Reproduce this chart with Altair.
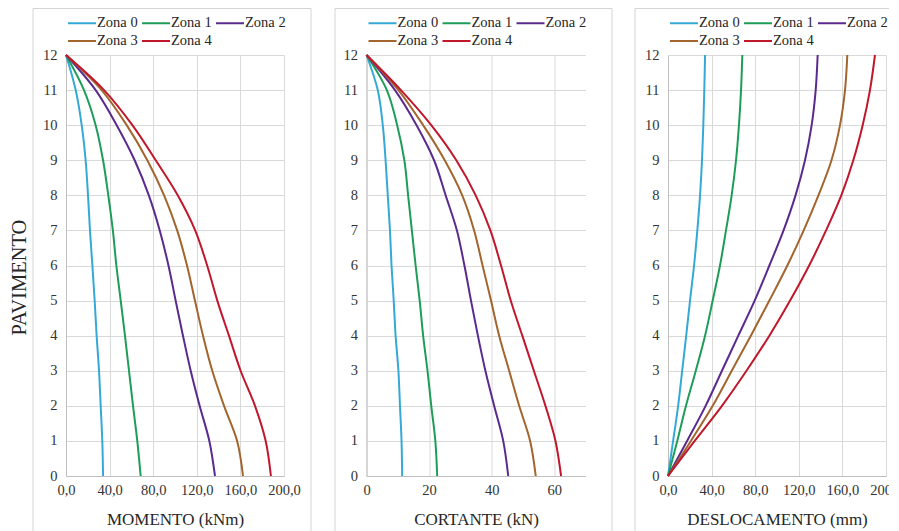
import altair as alt
import pandas as pd

floors = list(range(13))
zonas = ["Zona 0", "Zona 1", "Zona 2", "Zona 3", "Zona 4"]
cores = ["#35a9d6", "#1f9d58", "#5b2a8e", "#a3652e", "#c0172b"]

# values listed for pavimento 0..12
momento = {
    "Zona 0": [34.0, 33.3, 31.8, 30.3, 28.1, 26.3, 24.2, 22.0, 20.2, 18.0, 14.4, 8.9, 0.0],
    "Zona 1": [68.5, 65.4, 61.5, 57.8, 54.1, 50.2, 46.2, 43.0, 38.8, 34.0, 27.2, 16.5, 0.0],
    "Zona 2": [136.7, 131.5, 122.6, 114.4, 107.3, 100.6, 94.0, 86.0, 76.0, 63.0, 46.5, 27.2, 0.0],
    "Zona 3": [162.4, 157.0, 145.0, 134.2, 125.7, 118.3, 111.0, 102.0, 90.0, 74.6, 55.7, 32.7, 0.0],
    "Zona 4": [188.0, 183.2, 173.4, 160.2, 149.5, 138.8, 129.5, 118.5, 102.5, 82.3, 60.9, 34.9, 0.0],
}
cortante = {
    "Zona 0": [11.4, 11.2, 10.7, 10.2, 9.3, 8.7, 8.0, 7.5, 6.8, 6.1, 5.2, 3.6, 0.0],
    "Zona 1": [22.6, 22.0, 20.7, 19.5, 18.1, 17.0, 15.7, 14.5, 13.3, 12.1, 9.8, 6.5, 0.0],
    "Zona 2": [45.3, 43.7, 40.8, 38.0, 35.6, 33.4, 31.3, 28.9, 25.3, 21.6, 16.0, 9.1, 0.0],
    "Zona 3": [54.1, 52.3, 48.8, 45.6, 42.4, 39.8, 37.1, 34.4, 30.6, 25.0, 18.1, 10.2, 0.0],
    "Zona 4": [62.2, 60.4, 57.2, 53.5, 49.8, 46.1, 43.0, 39.6, 34.9, 28.7, 20.7, 11.0, 0.0],
}
deslocamento = {
    "Zona 0": [0.0, 4.7, 9.3, 13.0, 16.7, 20.2, 23.9, 26.9, 29.4, 31.2, 32.4, 33.3, 34.0],
    "Zona 1": [0.0, 8.5, 16.5, 25.5, 34.0, 41.0, 47.7, 53.2, 58.4, 62.4, 65.1, 67.0, 68.2],
    "Zona 2": [0.0, 17.5, 34.5, 49.5, 64.5, 79.5, 93.0, 106.0, 117.0, 125.7, 131.8, 135.5, 137.3],
    "Zona 3": [0.0, 21.0, 41.0, 58.5, 76.0, 93.0, 109.5, 124.5, 138.0, 150.0, 157.8, 162.4, 164.5],
    "Zona 4": [0.0, 24.5, 49.5, 72.0, 93.0, 112.0, 129.5, 145.0, 159.0, 170.0, 178.6, 185.3, 189.9],
}

ticks_momento = [0, 40, 80, 120, 160, 200]
ticks_cortante = [0, 20, 40, 60]
ticks_desl = [0, 40, 80, 120, 160, 200]

FONT = "Liberation Serif"
GRID = "#d9d9d9"
BORDER = "#d4d4d4"


def long_df(d):
    rows = []
    for z in zonas:
        for f, v in zip(floors, d[z]):
            rows.append({"zona": z, "pavimento": f, "valor": v})
    return pd.DataFrame(rows)


def panel(data, domain, ticks, xtitle, label_expr, ytitle, width, left, right, top_end):
    yaxis = dict(values=floors, grid=True, gridColor=GRID, domainColor="#bfbfbf",
                 ticks=False, labelPadding=9)
    if ytitle:
        yaxis.update(title=ytitle, titlePadding=13, titleFontSize=20.5, titleY=222)
    lines = alt.Chart(long_df(data)).mark_line(strokeWidth=2, interpolate="catmull-rom").encode(
        x=alt.X("valor:Q",
                scale=alt.Scale(domain=domain, nice=False, zero=False),
                axis=alt.Axis(values=ticks, labelExpr=label_expr, title=xtitle,
                              grid=True, gridColor=GRID, domainColor="#bfbfbf",
                              ticks=False, labelPadding=7, titlePadding=15,
                              labelFlush=False)),
        y=alt.Y("pavimento:Q",
                scale=alt.Scale(domain=[0, 12], nice=False),
                axis=alt.Axis(**yaxis),
                title=ytitle),
        color=alt.Color("zona:N", scale=alt.Scale(domain=zonas, range=cores),
                        legend=alt.Legend(orient="none", legendX=8, legendY=-40, columns=3,
                                          direction="horizontal", symbolType="M-2,0L2,0",
                                          symbolSize=196, symbolStrokeWidth=2,
                                          labelFont=FONT, labelFontSize=14.5, labelColor="#262626",
                                          labelOffset=7, columnPadding=0, rowPadding=3,
                                          title=None, padding=0, labelLimit=0)),
        order="pavimento:Q",
    ).properties(width=width, height=421)

    one = pd.DataFrame({"k": [0]})
    layers = [lines]
    layers.append(alt.Chart(one).mark_rule(color=BORDER, strokeWidth=1).encode(
        x=alt.value(left), x2=alt.value(top_end), y=alt.value(-46.5)))
    layers.append(alt.Chart(one).mark_rule(color=BORDER, strokeWidth=1).encode(
        x=alt.value(left), y=alt.value(-46.5), y2=alt.value(476)))
    if right is not None:
        layers.append(alt.Chart(one).mark_rule(color=BORDER, strokeWidth=1).encode(
            x=alt.value(right), y=alt.value(-46.5), y2=alt.value(476)))
    return alt.layer(*layers)


fmt1 = "replace(format(datum.value, '.1f'), '.', ',')"
fmt0 = "format(datum.value, 'd')"

p1 = panel(momento, [0, 200], ticks_momento, "MOMENTO (kNm)", fmt1, "PAVIMENTO", 218, -33, 245, 245)
p2 = panel(cortante, [0, 70], ticks_cortante, "CORTANTE (kN)", fmt0, None, 219, -31.5, 245.5, 245.5)
p3 = panel(deslocamento, [0, 200], ticks_desl, "DESLOCAMENTO (mm)", fmt1, None, 218, -33, None, 221)

chart = alt.hconcat(p1, p2, p3, spacing=82.5, bounds="flush").resolve_scale(
    color="independent"
).properties(
    padding={"left": 1, "top": 0, "right": -14, "bottom": 0},
    background="white",
).configure_view(stroke=None).configure_axis(
    labelFont=FONT, labelFontSize=14.5, labelColor="#333333",
    titleFont=FONT, titleFontSize=17, titleColor="#262626", titleFontWeight="normal",
)

chart.save("out.html", embed_options={"renderer": "svg", "actions": False})
